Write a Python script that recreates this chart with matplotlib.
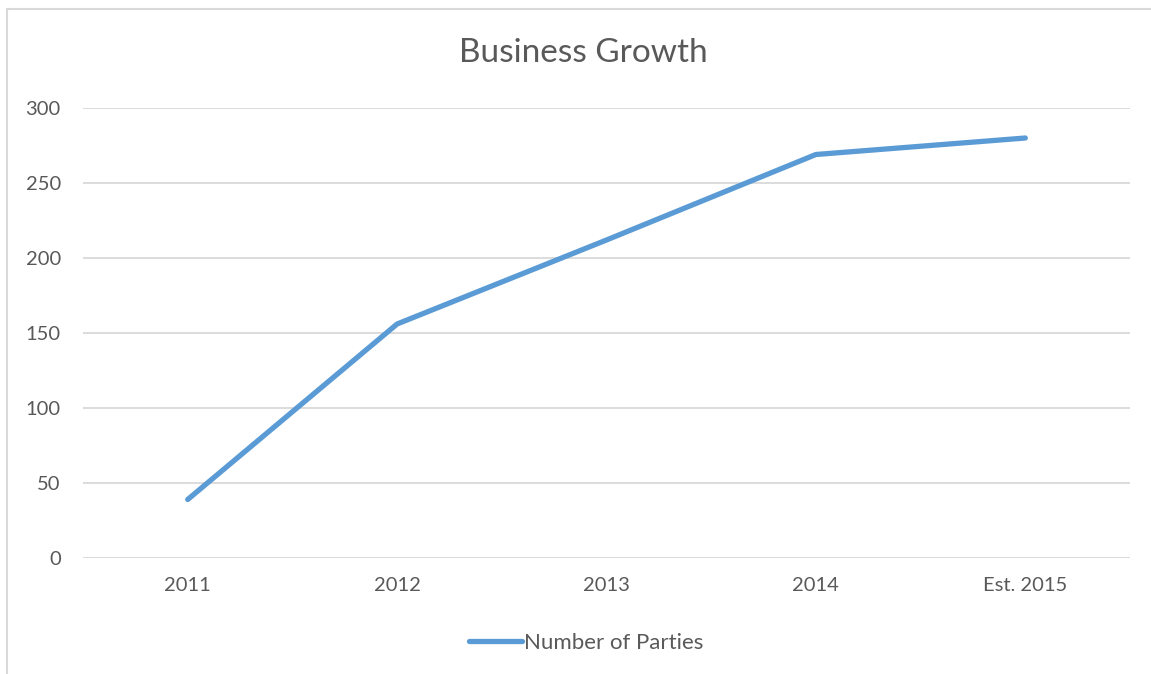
import matplotlib.pyplot as plt
from matplotlib.patches import Rectangle

years = ['2011', '2012', '2013', '2014', 'Est. 2015']
parties = [39, 156, 212, 269, 280]
y_ticks = [0, 50, 100, 150, 200, 250, 300]

plt.rcParams['font.family'] = ['Lato', 'DejaVu Sans']
text_col = '#595959'
grid_col = '#d9d9d9'

W, H = 1151, 674
fig = plt.figure(figsize=(W / 100, H / 100), dpi=100)
ax = fig.add_axes([83 / W, 1 - 558 / H, (1130 - 83) / W, (558 - 108) / H])

x = list(range(len(years)))
ax.plot(x, parties, color='#5b9bd5', linewidth=3.8, solid_capstyle='round',
        solid_joinstyle='round', label='Number of Parties')

ax.set_xlim(-0.5, len(years) - 0.5)
ax.set_ylim(0, 300)
ax.set_yticks(y_ticks)
ax.set_xticks(x)
ax.set_xticklabels(years)
ax.grid(axis='y', color=grid_col, linewidth=1.3)
ax.set_axisbelow(True)
for s in ax.spines.values():
    s.set_visible(False)
ax.tick_params(length=0, labelsize=14.5, colors=text_col)
ax.tick_params(axis='y', pad=16)
ax.tick_params(axis='x', pad=14)

fig.text(583 / W, 1 - 53 / H, 'Business Growth', ha='center', va='center',
         fontsize=24, color=text_col)

fig.legend(loc='center', bbox_to_anchor=(586 / W, 1 - 643 / H), frameon=False,
           fontsize=16, labelcolor=text_col, handlelength=2.4, handletextpad=0.1)

# chart border (cropped on right and bottom)
fig.patches.append(Rectangle((7 / W, -0.1), 1.2, 1 - 9 / H + 0.1,
                             transform=fig.transFigure, fill=False,
                             edgecolor=grid_col, linewidth=1.5))

fig.savefig('out.png', dpi=100)
